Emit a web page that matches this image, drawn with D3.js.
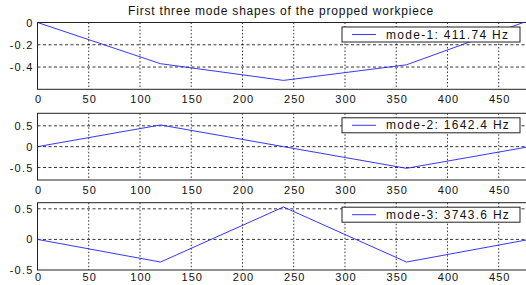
<!DOCTYPE html>
<html>
<head>
<meta charset="utf-8">
<style>
  body { margin: 0; background: #fff; }
  svg { display: block; overflow: hidden; }
  text { font-family: "Liberation Sans", Arial, sans-serif; fill: #111; }
</style>
</head>
<body>
<svg width="526" height="285"></svg>
<script src="https://d3js.org/d3.v7.min.js"></script>
<script>

// Node positions along the workpiece
var positions = [0, 120, 240, 360, 480];

// Mode shape values at each node
var mode1 = [0, -0.37, -0.52, -0.38, 0.02];
var mode2 = [0, 0.52, 0, -0.52, 0];
var mode3 = [0, -0.37, 0.53, -0.37, 0];

var modeLabels = ["mode-1: 411.74 Hz", "mode-2: 1642.4 Hz", "mode-3: 3743.6 Hz"];
var xTicks = [0, 50, 100, 150, 200, 250, 300, 350, 400, 450];
var yDomains = [[-0.6, 0], [-0.8, 0.8], [-0.5, 0.6]];
var yTicks = [[-0.4, -0.2, 0], [-0.5, 0, 0.5], [-0.5, 0, 0.5]];

var title = "First three mode shapes of the propped workpiece";

var svg = d3.select("svg");

// panel placement (top, bottom, label padding) in pixels
var panels = [[22.5, 89.3, 6], [113.3, 180, 6], [202.7, 270, 3]];
var left = 37.5;

var x = d3.scaleLinear().domain([0, 480]).range([left, left + 480 * 1.0249]);

svg.append("text")
  .attr("x", 281)
  .attr("y", 15)
  .attr("text-anchor", "middle")
  .style("font-size", "12px")
  .style("letter-spacing", "0.8px")
  .text(title);

[mode1, mode2, mode3].forEach(function(vals, i) {
  var top = panels[i][0], bottom = panels[i][1];
  var y = d3.scaleLinear().domain(yDomains[i]).range([bottom, top]);
  var g = svg.append("g");
  var right = x(480);

  // clip for line
  var clipId = "clip" + i;
  g.append("clipPath").attr("id", clipId)
    .append("rect")
      .attr("x", left).attr("y", top)
      .attr("width", right - left).attr("height", bottom - top);

  // vertical grid
  g.selectAll(".vg")
    .data(xTicks.filter(function(t) { return t > 0; }))
    .enter().append("line")
      .attr("x1", function(d) { return x(d); })
      .attr("x2", function(d) { return x(d); })
      .attr("y1", top).attr("y2", bottom)
      .attr("stroke", "#000")
      .attr("stroke-width", 0.8)
      .attr("stroke-dasharray", "1.5,2");

  // horizontal grid
  g.selectAll(".hg")
    .data(yTicks[i].filter(function(t) { return y(t) > top + 1 && y(t) < bottom - 1; }))
    .enter().append("line")
      .attr("x1", left).attr("x2", right)
      .attr("y1", function(d) { return y(d); })
      .attr("y2", function(d) { return y(d); })
      .attr("stroke", "#000")
      .attr("stroke-width", 0.8)
      .attr("stroke-dasharray", "3,2.5");

  // axes box
  g.append("rect")
    .attr("x", left).attr("y", top)
    .attr("width", right - left).attr("height", bottom - top)
    .attr("fill", "none")
    .attr("stroke", "#222")
    .attr("stroke-width", 1);

  // x axis labels
  var xAxis = d3.axisBottom(x).tickValues(xTicks).tickSize(0).tickPadding(panels[i][2]).tickFormat(d3.format("d"));
  var xa = g.append("g").attr("transform", "translate(0," + bottom + ")").call(xAxis);
  xa.select(".domain").remove();
  xa.selectAll("text")
    .style("font-size", "11px")
    .style("letter-spacing", "1px")
    .attr("dx", "0.5")
    .attr("fill", "#111");

  // y axis labels
  var yAxis = d3.axisLeft(y).tickValues(yTicks[i]).tickSize(0).tickPadding(4)
    .tickFormat(function(d) { return d === 0 ? "0" : String(d); });
  var ya = g.append("g").attr("transform", "translate(" + left + ",0)").call(yAxis);
  ya.select(".domain").remove();
  ya.selectAll("text")
    .style("font-size", "11px")
    .style("letter-spacing", "1.2px")
    .attr("fill", "#111");

  // mode line
  var line = d3.line()
    .x(function(d, j) { return x(positions[j]); })
    .y(function(d) { return y(d); });
  g.append("path")
    .datum(vals)
    .attr("clip-path", "url(#" + clipId + ")")
    .attr("d", line)
    .attr("fill", "none")
    .attr("stroke", "#2020ff")
    .attr("stroke-width", 0.9);

  // legend
  var lg = g.append("g").attr("transform", "translate(342," + (top + 4.5) + ")");
  lg.append("rect")
    .attr("width", 178).attr("height", 15)
    .attr("fill", "#fff")
    .attr("stroke", "#222")
    .attr("stroke-width", 1);
  lg.append("line")
    .attr("x1", 10).attr("x2", 34)
    .attr("y1", 7.5).attr("y2", 7.5)
    .attr("stroke", "#2020ff")
    .attr("stroke-width", 0.9);
  lg.append("text")
    .attr("x", 44).attr("y", 11.5)
    .style("font-size", "12px")
    .style("letter-spacing", "1.3px")
    .text(modeLabels[i]);
});

</script>
</body>
</html>
